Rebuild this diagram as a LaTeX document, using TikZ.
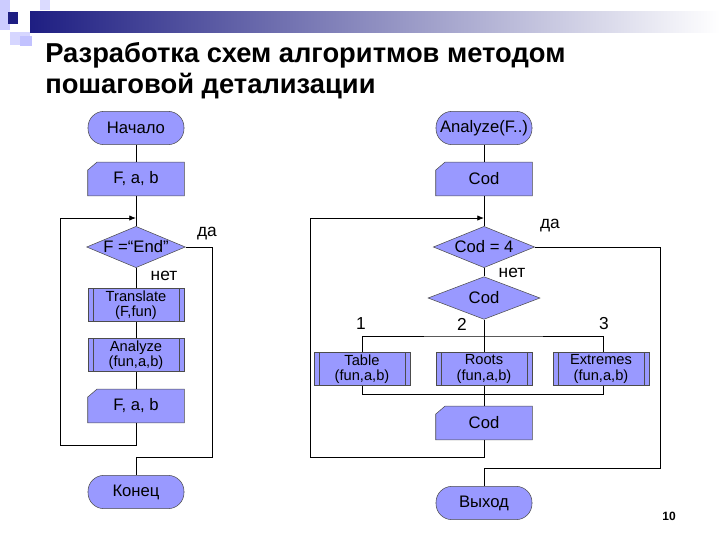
\documentclass[tikz,border=0pt]{standalone}
\usepackage{fontspec}
\setmainfont{Liberation Sans}
\usetikzlibrary{shapes.geometric,backgrounds,arrows.meta}
\definecolor{blk}{RGB}{153,153,255}
\definecolor{dblue}{RGB}{30,30,130}
\begin{document}
\begin{tikzpicture}[x=0.75pt,y=-0.75pt,
  every node/.style={font=\fontsize{12.5}{13}\selectfont,align=center,inner sep=0pt},
  term/.style={draw=black!70,fill=blk,rounded corners=12pt,minimum width=72pt,minimum height=25pt},
  card/.style={minimum width=72pt,minimum height=25pt},
  sub/.style={draw=black!70,fill=blk,minimum width=72pt,minimum height=25pt,font=\fontsize{11}{11.5}\selectfont},
  dec/.style={diamond,draw=black!70,fill=blk,aspect=2.4,inner sep=0pt},
  ln/.style={draw=black,line width=0.6pt},
  arr/.style={ln,-{Latex[length=5pt,width=4pt]}},
  lbl/.style={font=\fontsize{13}{13}\selectfont}]
\useasboundingbox (0,0) rectangle (720,540);
% header decoration
\shade[left color=dblue,right color=white] (30,11) rectangle (720,32);
\fill[blk!50] (0,0) rectangle (10,30);
\fill[blk!40] (10,32) rectangle (30,45);
\fill[blk!60] (20,36) rectangle (32,46);
\fill[dblue] (8,12) rectangle (18,24);
\fill[blk!35] (40,0) rectangle (50,10);
\node[anchor=base west,font=\fontsize{20.5}{24}\selectfont\bfseries,align=left] (title) at (45,62) {Разработка схем алгоритмов методом};
\node[anchor=base west,font=\fontsize{20.5}{24}\selectfont\bfseries,align=left] (title2) at (45,93) {пошаговой детализации};
% left column
\node[term] (beg) at (136,128) {Начало};
\node[card] (in1) at (136,179) {F, a, b};
\coordinate (j1) at (136,218);
\node[dec,minimum width=74pt,minimum height=31pt] (d1) at (136,247) {F =“End”};
\node[sub] (tr) at (136,305) {Translate\\(F,fun)};
\node[sub] (an) at (136,355) {Analyze\\(fun,a,b)};
\node[card] (in2) at (136,406) {F, a, b};
\node[term] (end) at (136,492) {Конец};
% right column
\node[term] (beg2) at (484,128) {Analyze(F..)};
\node[card] (c1) at (484,179) {Cod};
\coordinate (j2) at (484,218);
\node[dec,minimum width=76pt,minimum height=31pt] (d2) at (484,247) {Cod = 4};
\node[dec,minimum width=84pt,minimum height=32pt] (d3) at (484,298) {Cod};
\node[sub] (t) at (362,369) {Table\\(fun,a,b)};
\node[sub] (r) at (484,369) {Roots\\(fun,a,b)};
\node[sub] (e) at (601,369) {Extremes\\(fun,a,b)};
\node[card] (c2) at (484,423) {Cod};
\node[term] (ex) at (484,503) {Выход};
% card shapes
\begin{scope}[on background layer]
\foreach \n in {in1,in2,c1,c2}{
  \filldraw[draw=black!70,fill=blk] ([yshift=-6pt]\n.north west) -- ([xshift=7pt]\n.north west) -- (\n.north east) -- (\n.south east) -- (\n.south west) -- cycle;}
\end{scope}
\foreach \n in {tr,an,t,r,e}{
  \draw[black!70] ([xshift=4pt]\n.north west) -- ([xshift=4pt]\n.south west);
  \draw[black!70] ([xshift=-4pt]\n.north east) -- ([xshift=-4pt]\n.south east);}
% left connectors
\draw[ln] (beg) -- (in1);
\draw[ln] (in1) -- (d1);
\draw[ln] (d1) -- (tr);
\draw[ln] (tr) -- (an);
\draw[ln] (an) -- (in2);
\draw[arr] (in2.south) -- ++(0,-17pt) -| (60,218) -- (j1);
\draw[ln] (d1.east) -- (212,247) -- (212,457) -| (end.north);
\node[lbl] (da1) at (207,234) {да};
\node[lbl] (net1) at (164,276) {нет};
% right connectors
\draw[ln] (beg2) -- (c1);
\draw[ln] (c1) -- (d2);
\draw[ln] (d2) -- (d3);
\draw[ln] (d2.east) -- (660,247) -- (660,468) -| (ex.north);
\node[lbl] (da2) at (550,226) {да};
\node[lbl] (net2) at (512,273) {нет};
\draw[ln] (d3.south) -- (r.north);
\draw[ln] (t.north) |- (484,336) -| ([xshift=2pt]e.north);
\draw[ln] (t.south) |- (484,394) -| ([xshift=2pt]e.south);
\draw[ln] (r.south) -- (c2.north);
\draw[arr] (c2.south) -- ++(0,-13pt) -| (310,218) -- (j2);
\node[lbl] (l1) at (361,324) {1};
\node[lbl] (l2) at (462,324) {2};
\node[lbl] (l3) at (604,324) {3};
\node[font=\fontsize{9}{9}\selectfont\bfseries] (pg) at (669,516) {10};
\end{tikzpicture}
\end{document}
